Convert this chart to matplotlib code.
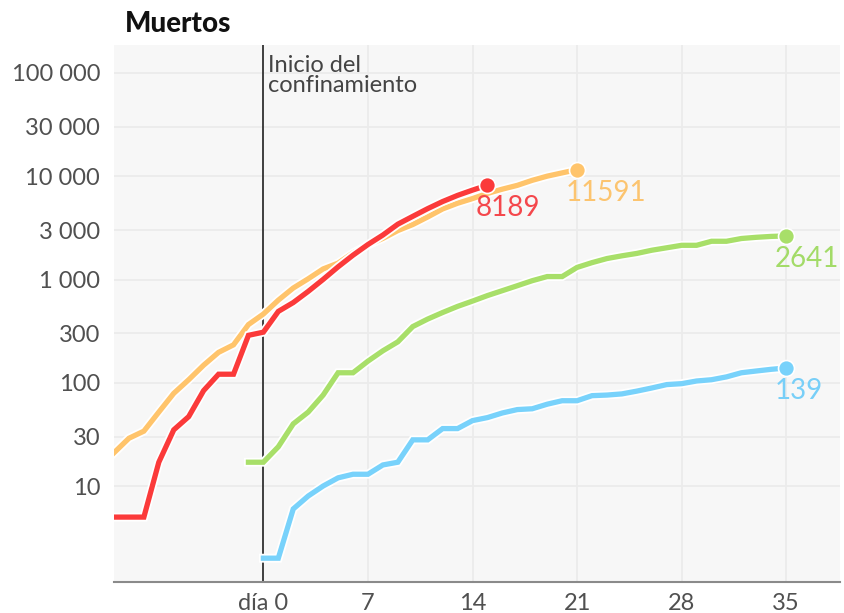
import matplotlib
matplotlib.use("Agg")
import matplotlib.pyplot as plt
import matplotlib.patheffects as pe
import numpy as np

plt.rcParams['font.family'] = ['Lato', 'DejaVu Sans']

# ---- data ----
spain_days = list(range(-10, 16))
spain = [5, 5, 5, 17, 35, 47, 84, 121, 121, 288, 309, 491, 598, 767, 1002,
         1326, 1720, 2182, 2696, 3434, 4089, 4858, 5690, 6528, 7340, 8189]

italy_days = list(range(-10, 22))
italy = [21, 29, 34, 52, 79, 107, 148, 197, 233, 366, 463, 631, 827, 1016,
         1266, 1441, 1809, 2158, 2503, 2978, 3405, 4032, 4825, 5476, 6077,
         6820, 7503, 8165, 9134, 10023, 10779, 11591]

hubei_days = list(range(-1, 36))
hubei = [17, 17, 24, 40, 52, 76, 125, 125, 162, 204, 249, 350, 414, 479, 549,
         618, 699, 780, 871, 974, 1068, 1068, 1310, 1457, 1596, 1696, 1789,
         1921, 2029, 2144, 2144, 2346, 2346, 2495, 2563, 2615, 2641]

rest_days = list(range(0, 36))
rest = [2, 2, 6, 8, 10, 12, 13, 13, 16, 17, 28, 28, 36, 36, 43, 46, 51, 55,
        56, 62, 67, 67, 75, 76, 78, 83, 89, 96, 98, 104, 107, 114, 125, 130,
        135, 139]

y_ticks = [10, 30, 100, 300, 1000, 3000, 10000, 30000, 100000]
y_tick_labels = ["10", "30", "100", "300", "1 000", "3 000", "10 000",
                 "30 000", "100 000"]
x_ticks = [0, 7, 14, 21, 28, 35]
x_tick_labels = ["día 0", "7", "14", "21", "28", "35"]

series = [
    (italy_days, italy, "#ffc46b", "#fcc46f"),
    (hubei_days, hubei, "#a8df69", "#a3db68"),
    (rest_days, rest, "#78d2fb", "#78cff8"),
    (spain_days, spain, "#fb3a3a", "#f4474c"),
]

# ---- figure ----
W, H = 845, 613
fig = plt.figure(figsize=(W / 100, H / 100), dpi=100)
ax = fig.add_axes([114 / W, 1 - 582 / H, (840 - 114) / W, (582 - 45) / H])
ax.set_facecolor("#f7f7f7")
ax.set_yscale("log")
ax.set_xlim(-10, 38.6)
ax.set_ylim(1.176, 186700)

ax.set_yticks(y_ticks)
ax.set_yticklabels(y_tick_labels)
ax.yaxis.set_minor_locator(matplotlib.ticker.NullLocator())
ax.set_xticks(x_ticks)
ax.set_xticklabels(x_tick_labels)
ax.tick_params(axis="both", length=0, labelsize=17, labelcolor="#505050")
ax.tick_params(axis="y", pad=10)
ax.tick_params(axis="x", pad=8)

ax.grid(True, color="#ebebeb", linewidth=1.3, zorder=0)
ax.set_axisbelow(True)
for s in ["top", "right", "left"]:
    ax.spines[s].set_visible(False)
ax.spines["bottom"].set_color("#8a8a8a")
ax.spines["bottom"].set_linewidth(1.5)

# confinement line
ax.axvline(0, color="#111111", linewidth=1.1, zorder=1)
ax.annotate("Inicio del\nconfinamiento", xy=(0, 1), xycoords=("data", "axes fraction"),
            xytext=(3.5, -7), textcoords="offset points", ha="left", va="top",
            fontsize=17, color="#444444", linespacing=0.95)

outline = [pe.Stroke(linewidth=6.4, foreground="white"), pe.Normal()]
for i, (dx, dy, col, tcol) in enumerate(series):
    ax.plot(dx, dy, color=col, linewidth=3.8, solid_joinstyle="miter",
            path_effects=outline, zorder=3 + i)
    ax.plot(dx[-1], dy[-1], "o", color=col, markersize=11.5,
            markeredgecolor="white", markeredgewidth=1.2, zorder=10 + i)
    ax.annotate(str(dy[-1]), xy=(dx[-1], dy[-1]), xytext=(-8.5, -22.5),
                textcoords="offset points", ha="left", va="baseline",
                fontsize=20, color=tcol, zorder=20)

fig.text(125 / W, 1 - 32 / H, "Muertos", fontsize=20, fontweight="black",
         color="#111111", ha="left", va="baseline")

fig.savefig("out.png", dpi=100, facecolor="white")
